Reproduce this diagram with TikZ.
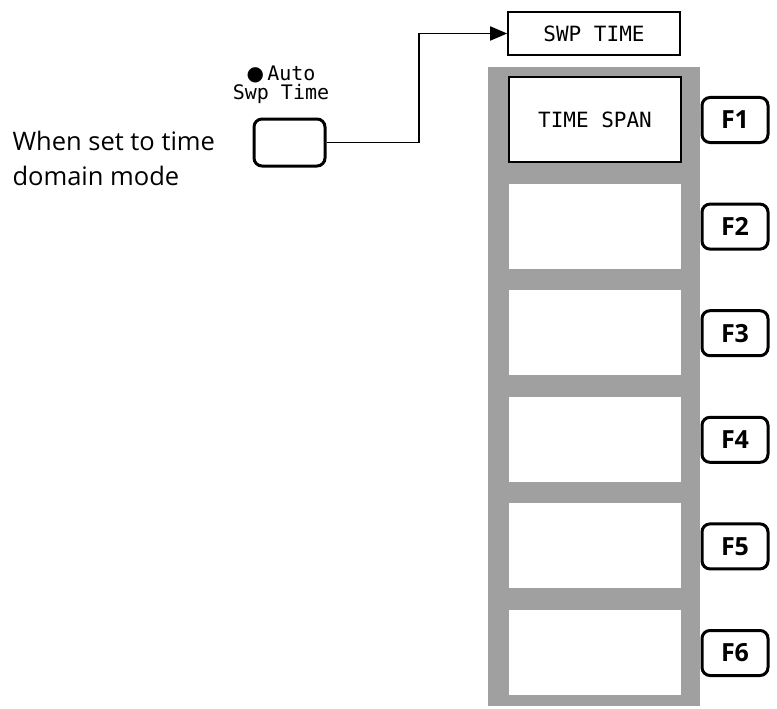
\documentclass[tikz,border=0pt]{standalone}
\usepackage{fontspec}
\setmainfont{Open Sans}
\setmonofont{DejaVu Sans Mono}
\newfontfamily\symfont{DejaVu Sans}
\usetikzlibrary{arrows.meta,positioning,calc}
\definecolor{screengray}{HTML}{A0A0A0}

\begin{document}
\begin{tikzpicture}[x=1pt, y=-1pt,
    panel/.style={rectangle, fill=screengray, minimum width=212pt, minimum height=639pt},
    softbox/.style={rectangle, fill=white, minimum width=172pt, minimum height=85pt, font=\ttfamily\fontsize{21}{24}\selectfont},
    titlebox/.style={rectangle, draw, line width=1.6pt, fill=white, minimum width=172pt, minimum height=43pt, font=\ttfamily\fontsize{21}{24}\selectfont},
    fkey/.style={rectangle, draw, rounded corners=8pt, line width=3pt, minimum width=66pt, minimum height=45pt, font=\bfseries\fontsize{25}{28}\selectfont},
    hardkey/.style={rectangle, draw, rounded corners=8pt, line width=3pt, minimum width=71pt, minimum height=47pt},
    arrow/.style={-{Triangle[length=17pt, width=14pt]}, line width=1.8pt}
]
    \useasboundingbox (0,0) rectangle (777,709);

    % Softkey panel
    \node[panel] (panel) at (594,386.5) {};
    \node[titlebox] (swptime) at (594,33.5) {SWP TIME};
    \foreach \i in {1,...,6} {
        \node[softbox] (soft\i) at (595,{119.5+106.6*(\i-1)}) {};
        \node[fkey] (f\i) at (735,{120+106.6*(\i-1)}) {F\i};
    }
    \node[softbox, draw, line width=2pt] at (soft1) {TIME SPAN};

    % Front panel key
    \node[hardkey] (autokey) at (289.5,142.5) {};
    \node[font=\ttfamily\fontsize{20}{19}\selectfont, align=center] (keylabel) at (281,85)
        {{\symfont\fontsize{20}{19}\selectfont ●}\,Auto\\Swp Time};
    \node[anchor=west, align=left, font=\fontsize{25.5}{35}\selectfont] (mode) at (9,158)
        {When set to time\\domain mode};

    % Connector
    \coordinate (turn) at (419,33.5);
    \draw[arrow] (autokey.east) -| (turn) -- (swptime.west);
\end{tikzpicture}
\end{document}
